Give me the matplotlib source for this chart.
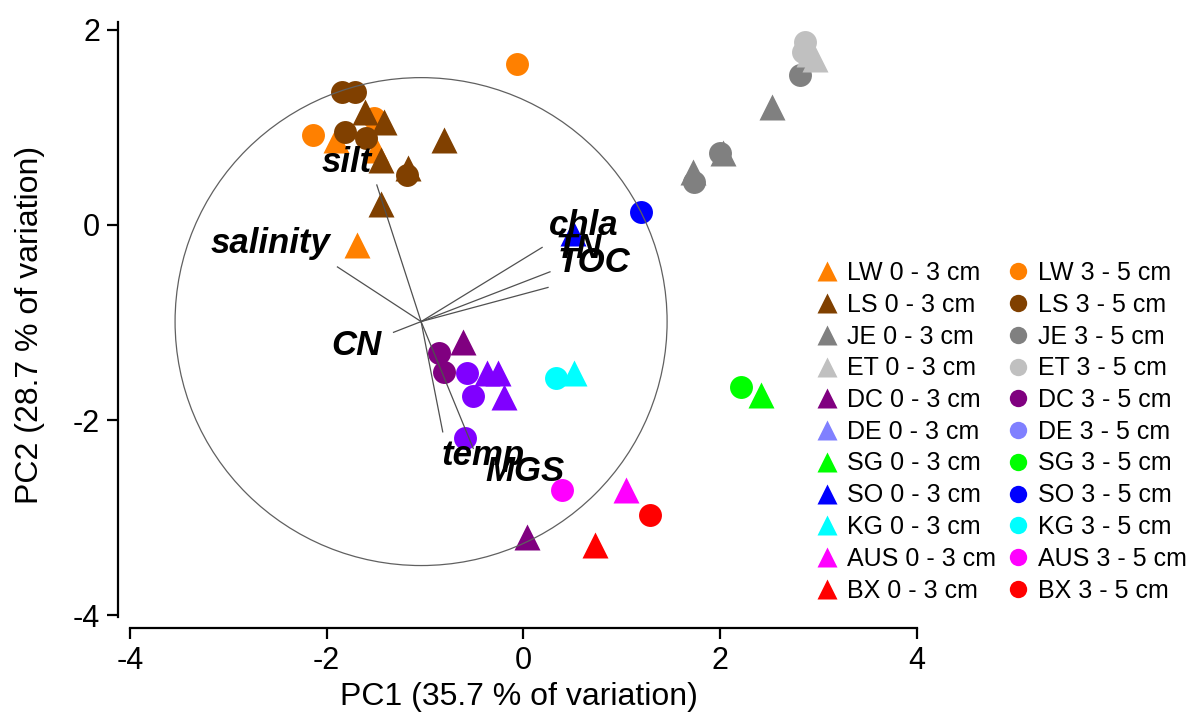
import matplotlib
matplotlib.use('Agg')
import matplotlib.pyplot as plt
from matplotlib.lines import Line2D
from matplotlib.patches import Circle

plt.rcParams['font.family'] = ['Liberation Sans', 'DejaVu Sans']

# sites, colours (point colour / legend colour)
sites = ['LW', 'LS', 'JE', 'ET', 'DC', 'DE', 'SG', 'SO', 'KG', 'AUS', 'BX']
point_colors = ['#FF8000', '#804000', '#808080', '#C0C0C0', '#800080', '#8000FF',
                '#00FF00', '#0000FF', '#00FFFF', '#FF00FF', '#FF0000']
legend_colors = ['#FF8000', '#804000', '#808080', '#C0C0C0', '#800080', '#8080FF',
                 '#00FF00', '#0000FF', '#00FFFF', '#FF00FF', '#FF0000']

# PC scores, 0 - 3 cm (triangles)
top_pc1 = {
    'LW': [-1.90, -1.50, -1.69],
    'LS': [-1.61, -1.42, -1.45, -0.81, -1.17, -1.45],
    'JE': [2.53, 2.03, 1.72],
    'ET': [2.90, 2.96],
    'DC': [-0.61, 0.04],
    'DE': [-0.37, -0.26, -0.20],
    'SG': [2.41],
    'SO': [0.50],
    'KG': [0.51],
    'AUS': [1.04],
    'BX': [0.73],
}
top_pc2 = {
    'LW': [0.87, 0.77, -0.21],
    'LS': [1.16, 1.06, 0.67, 0.87, 0.58, 0.21],
    'JE': [1.21, 0.74, 0.54],
    'ET': [1.75, 1.70],
    'DC': [-1.20, -3.20],
    'DE': [-1.52, -1.52, -1.76],
    'SG': [-1.74],
    'SO': [-0.08],
    'KG': [-1.52],
    'AUS': [-2.72],
    'BX': [-3.28],
}
# PC scores, 3 - 5 cm (circles)
deep_pc1 = {
    'LW': [-2.14, -1.52, -0.07],
    'LS': [-1.84, -1.71, -1.81, -1.60, -1.18],
    'JE': [2.81, 2.00, 1.73],
    'ET': [2.86, 2.84],
    'DC': [-0.86, -0.81],
    'DE': [-0.57, -0.51, -0.59],
    'SG': [2.21],
    'SO': [1.19],
    'KG': [0.33],
    'AUS': [0.39],
    'BX': [1.29],
}
deep_pc2 = {
    'LW': [0.92, 1.10, 1.65],
    'LS': [1.36, 1.36, 0.95, 0.89, 0.51],
    'JE': [1.54, 0.74, 0.44],
    'ET': [1.87, 1.77],
    'DC': [-1.31, -1.51],
    'DE': [-1.52, -1.75, -2.18],
    'SG': [-1.66],
    'SO': [0.13],
    'KG': [-1.57],
    'AUS': [-2.72],
    'BX': [-2.97],
}

# environmental vectors
vec_names = ['silt', 'salinity', 'CN', 'chla', 'TN', 'TOC', 'temp', 'MGS']
vec_x = [-1.49, -1.89, -1.32, 0.19, 0.27, 0.25, -0.82, -0.51]
vec_y = [0.41, -0.43, -1.10, -0.23, -0.48, -0.64, -2.12, -2.29]
lab_x = [-1.80, -2.57, -1.70, 0.61, 0.56, 0.72, -0.41, 0.02]
lab_y = [0.64, -0.19, -1.23, -0.01, -0.24, -0.38, -2.36, -2.53]
origin = (-1.04, -0.99)
circle_r = 2.5

fig = plt.figure(figsize=(11.95, 7.22), dpi=100)
ax = fig.add_axes([118 / 1195, 94 / 722, 802 / 1195, 606 / 722])
ax.set_xlim(-4.12, 4.03)
ax.set_ylim(-4.13, 2.08)

for s, c in zip(sites, point_colors):
    ax.plot(top_pc1[s], top_pc2[s], '^', ms=19, color=c, mec='none', zorder=2)
    ax.plot(deep_pc1[s], deep_pc2[s], 'o', ms=16.5, color=c, mec='none', zorder=2)

ax.add_patch(Circle(origin, circle_r, fill=False, ec='#606060', lw=0.9, zorder=3))
for vx, vy, name, lx, ly in zip(vec_x, vec_y, vec_names, lab_x, lab_y):
    ax.plot([origin[0], vx], [origin[1], vy], color='#505050', lw=0.9, zorder=3)
    ax.text(lx, ly, name, fontsize=25, fontweight='bold', fontstyle='italic',
            ha='center', va='center', zorder=4)

ax.spines['top'].set_visible(False)
ax.spines['right'].set_visible(False)
ax.spines['left'].set_linewidth(1.6)
ax.spines['bottom'].set_linewidth(1.6)
ax.spines['bottom'].set_bounds(-4, 4)
ax.spines['left'].set_bounds(-4.02, 2.08)
ax.set_xticks([-4, -2, 0, 2, 4])
ax.set_yticks([-4, -2, 0, 2])
ax.tick_params(direction='out', length=8, width=1.6, labelsize=22, pad=5)
ax.set_xticklabels(['-4', '-2', '0', '2', '4'])
ax.set_yticklabels(['-4', '-2', '0', '2'])
ax.set_xlabel('PC1 (35.7 % of variation)', fontsize=23, labelpad=4)
ax.set_ylabel('PC2 (28.7 % of variation)', fontsize=23, labelpad=20)

handles = []
labels = []
for s, c in zip(sites, legend_colors):
    handles.append(Line2D([], [], ls='none', marker='^', ms=14, color=c, mec='none'))
    labels.append(s + ' 0 - 3 cm')
for s, c in zip(sites, legend_colors):
    handles.append(Line2D([], [], ls='none', marker='o', ms=12.5, color=c, mec='none'))
    labels.append(s + ' 3 - 5 cm')
fig.legend(handles, labels, ncol=2, loc='upper left', bbox_to_anchor=(815 / 1195, 1 - 261 / 722),
           frameon=False, fontsize=18, handlelength=1.0, handletextpad=0.3,
           columnspacing=0.38, labelspacing=0.31, borderpad=0, borderaxespad=0)

fig.savefig('out.png', dpi=100)
